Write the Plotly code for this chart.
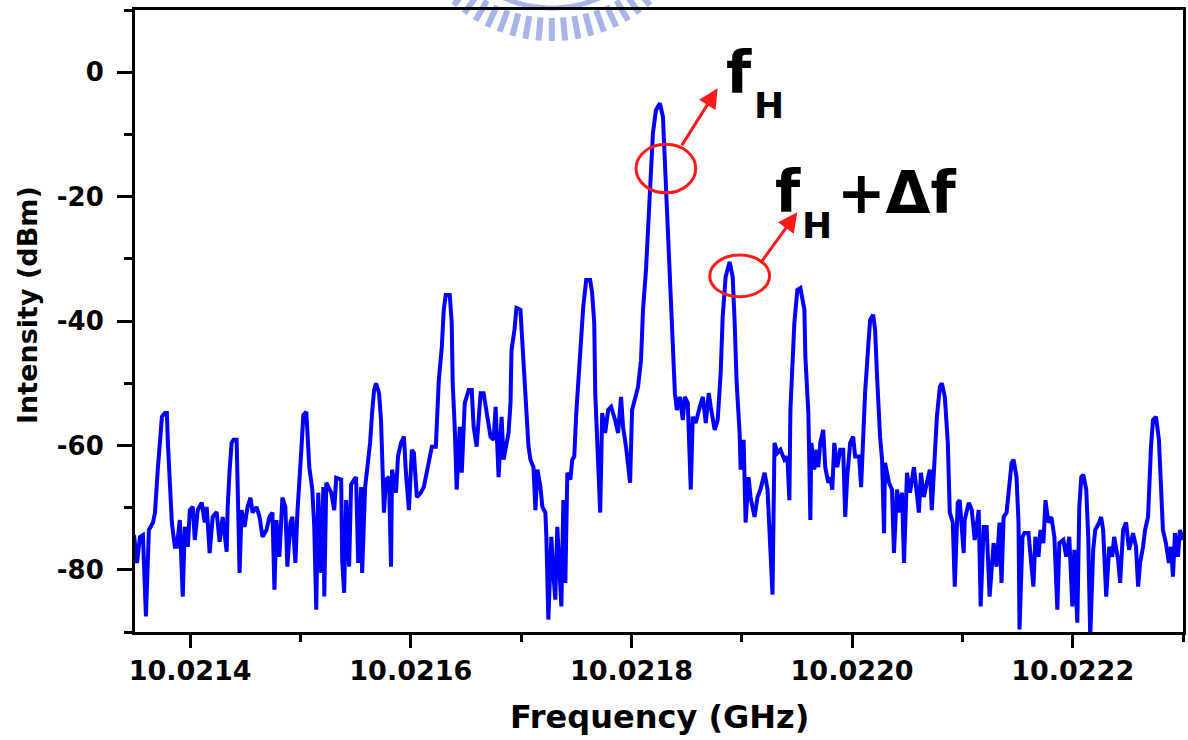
import math
import plotly.graph_objects as go

# Spectrum analyser trace: frequency (GHz) vs intensity (dBm)
freq_ghz = [
    10.0213491, 10.0213518, 10.0213545, 10.0213572, 10.0213599, 10.0213626, 10.0213663, 10.0213681, 10.0213708, 10.0213744,
    10.0213771, 10.0213789, 10.0213798, 10.0213816, 10.0213834, 10.0213861, 10.0213879, 10.0213906, 10.0213933, 10.0213951,
    10.0213979, 10.0213997, 10.0214024, 10.0214042, 10.0214069, 10.0214105, 10.0214132, 10.0214150, 10.0214177, 10.0214204,
    10.0214240, 10.0214267, 10.0214295, 10.0214331, 10.0214340, 10.0214358, 10.0214376, 10.0214394, 10.0214421, 10.0214430,
    10.0214448, 10.0214466, 10.0214493, 10.0214520, 10.0214547, 10.0214565, 10.0214602, 10.0214629, 10.0214656, 10.0214692,
    10.0214719, 10.0214746, 10.0214764, 10.0214782, 10.0214809, 10.0214836, 10.0214863, 10.0214881, 10.0214909, 10.0214927,
    10.0214954, 10.0214972, 10.0214990, 10.0215008, 10.0215026, 10.0215053, 10.0215080, 10.0215107, 10.0215125, 10.0215143,
    10.0215161, 10.0215188, 10.0215207, 10.0215216, 10.0215234, 10.0215279, 10.0215306, 10.0215324, 10.0215369, 10.0215378,
    10.0215396, 10.0215414, 10.0215441, 10.0215459, 10.0215486, 10.0215504, 10.0215523, 10.0215550, 10.0215559, 10.0215586,
    10.0215604, 10.0215631, 10.0215649, 10.0215667, 10.0215685, 10.0215712, 10.0215730, 10.0215739, 10.0215757, 10.0215775,
    10.0215802, 10.0215821, 10.0215830, 10.0215866, 10.0215884, 10.0215911, 10.0215938, 10.0215956, 10.0215983, 10.0216010,
    10.0216028, 10.0216055, 10.0216091, 10.0216118, 10.0216146, 10.0216173, 10.0216191, 10.0216227, 10.0216236, 10.0216254,
    10.0216281, 10.0216299, 10.0216317, 10.0216353, 10.0216371, 10.0216380, 10.0216398, 10.0216416, 10.0216444, 10.0216462,
    10.0216489, 10.0216525, 10.0216552, 10.0216570, 10.0216597, 10.0216633, 10.0216660, 10.0216687, 10.0216723, 10.0216751,
    10.0216769, 10.0216796, 10.0216814, 10.0216823, 10.0216841, 10.0216859, 10.0216886, 10.0216904, 10.0216913, 10.0216940,
    10.0216958, 10.0216994, 10.0217012, 10.0217030, 10.0217049, 10.0217067, 10.0217085, 10.0217112, 10.0217130, 10.0217148,
    10.0217175, 10.0217193, 10.0217220, 10.0217229, 10.0217247, 10.0217274, 10.0217292, 10.0217310, 10.0217328, 10.0217355,
    10.0217365, 10.0217383, 10.0217401, 10.0217419, 10.0217446, 10.0217464, 10.0217482, 10.0217500, 10.0217527, 10.0217545,
    10.0217563, 10.0217590, 10.0217626, 10.0217644, 10.0217663, 10.0217672, 10.0217690, 10.0217717, 10.0217735, 10.0217762,
    10.0217789, 10.0217816, 10.0217852, 10.0217879, 10.0217906, 10.0217924, 10.0217951, 10.0217988, 10.0218006, 10.0218033,
    10.0218060, 10.0218087, 10.0218105, 10.0218132, 10.0218168, 10.0218195, 10.0218222, 10.0218258, 10.0218286, 10.0218313,
    10.0218349, 10.0218376, 10.0218394, 10.0218412, 10.0218439, 10.0218466, 10.0218484, 10.0218511, 10.0218529, 10.0218538,
    10.0218556, 10.0218583, 10.0218620, 10.0218647, 10.0218674, 10.0218701, 10.0218719, 10.0218755, 10.0218782, 10.0218809,
    10.0218827, 10.0218854, 10.0218890, 10.0218918, 10.0218936, 10.0218954, 10.0218981, 10.0218990, 10.0219017, 10.0219035,
    10.0219062, 10.0219080, 10.0219116, 10.0219143, 10.0219170, 10.0219207, 10.0219234, 10.0219261, 10.0219279, 10.0219297,
    10.0219324, 10.0219351, 10.0219387, 10.0219414, 10.0219432, 10.0219441, 10.0219477, 10.0219504, 10.0219532, 10.0219568,
    10.0219577, 10.0219604, 10.0219622, 10.0219631, 10.0219658, 10.0219667, 10.0219694, 10.0219712, 10.0219739, 10.0219757,
    10.0219784, 10.0219802, 10.0219821, 10.0219839, 10.0219866, 10.0219893, 10.0219920, 10.0219938, 10.0219956, 10.0219983,
    10.0220010, 10.0220028, 10.0220064, 10.0220082, 10.0220100, 10.0220118, 10.0220146, 10.0220164, 10.0220191, 10.0220209,
    10.0220227, 10.0220245, 10.0220254, 10.0220272, 10.0220290, 10.0220299, 10.0220335, 10.0220362, 10.0220380, 10.0220407,
    10.0220435, 10.0220453, 10.0220471, 10.0220498, 10.0220525, 10.0220561, 10.0220579, 10.0220606, 10.0220624, 10.0220651,
    10.0220678, 10.0220705, 10.0220723, 10.0220742, 10.0220769, 10.0220796, 10.0220814, 10.0220841, 10.0220868, 10.0220886,
    10.0220913, 10.0220931, 10.0220958, 10.0220976, 10.0221012, 10.0221021, 10.0221058, 10.0221085, 10.0221112, 10.0221148,
    10.0221166, 10.0221193, 10.0221220, 10.0221247, 10.0221283, 10.0221310, 10.0221337, 10.0221355, 10.0221374, 10.0221401,
    10.0221428, 10.0221446, 10.0221464, 10.0221491, 10.0221509, 10.0221518, 10.0221545, 10.0221563, 10.0221599, 10.0221617,
    10.0221644, 10.0221662, 10.0221690, 10.0221708, 10.0221735, 10.0221753, 10.0221780, 10.0221807, 10.0221834, 10.0221861,
    10.0221879, 10.0221915, 10.0221942, 10.0221969, 10.0221997, 10.0222015, 10.0222042, 10.0222060, 10.0222078, 10.0222096,
    10.0222123, 10.0222141, 10.0222159, 10.0222186, 10.0222204, 10.0222240, 10.0222258, 10.0222276, 10.0222304, 10.0222331,
    10.0222358, 10.0222376, 10.0222412, 10.0222430, 10.0222457, 10.0222484, 10.0222511, 10.0222547, 10.0222574, 10.0222593,
    10.0222611, 10.0222638, 10.0222656, 10.0222683, 10.0222692, 10.0222710, 10.0222728, 10.0222755, 10.0222782, 10.0222800,
    10.0222818, 10.0222845, 10.0222872, 10.0222890, 10.0222909, 10.0222927, 10.0222954, 10.0222972, 10.0222999,
]

intensity_dbm = [
    -74.4, -78.9, -74.7, -74.4, -87.5, -73.6, -72.4, -70.8, -63.5, -55.4,
    -54.8, -54.8, -59.6, -66.7, -72.4, -76.3, -76.3, -72.0, -84.3, -73.1,
    -76.3, -70.4, -69.9, -75.2, -70.4, -69.2, -72.4, -69.9, -77.3, -71.5,
    -70.7, -75.5, -71.5, -77.1, -69.9, -63.9, -59.6, -59.1, -59.1, -66.0,
    -80.5, -70.4, -73.1, -69.9, -68.4, -70.8, -69.9, -71.5, -74.7, -73.6,
    -71.5, -70.8, -83.2, -72.0, -77.9, -68.4, -69.9, -79.5, -72.4, -71.5,
    -78.9, -70.8, -66.7, -60.7, -55.1, -54.6, -63.5, -67.1, -73.1, -86.4,
    -67.6, -80.5, -66.7, -84.3, -66.0, -67.6, -70.4, -65.2, -65.5, -78.4,
    -83.7, -68.8, -79.5, -66.3, -65.5, -65.1, -78.9, -66.7, -80.5, -66.7,
    -63.9, -59.6, -54.8, -51.1, -50.0, -51.6, -55.9, -61.2, -70.8, -65.5,
    -65.1, -79.5, -63.9, -67.6, -61.8, -59.6, -58.6, -64.4, -70.4, -60.7,
    -61.2, -68.3, -67.6, -66.7, -63.9, -61.2, -60.2, -60.2, -55.9, -49.5,
    -44.2, -38.2, -35.8, -35.8, -40.3, -50.0, -57.0, -67.1, -57.0, -64.4,
    -53.2, -51.1, -51.1, -57.0, -60.2, -51.6, -51.6, -54.8, -58.6, -59.1,
    -53.8, -65.1, -57.0, -55.4, -62.3, -60.2, -58.0, -53.2, -44.7, -41.4,
    -37.9, -38.2, -43.5, -49.0, -54.3, -60.2, -62.3, -63.5, -70.4, -63.9,
    -66.7, -69.9, -70.8, -74.7, -88.0, -74.7, -80.5, -84.8, -73.1, -81.6,
    -85.9, -68.8, -82.1, -64.4, -65.5, -62.3, -61.8, -54.8, -47.4, -41.0,
    -37.8, -33.4, -33.4, -35.5, -40.3, -51.6, -58.6, -70.8, -54.8, -58.0,
    -54.3, -53.8, -55.9, -58.0, -52.2, -57.0, -60.2, -66.0, -54.3, -52.7,
    -50.6, -46.3, -38.2, -31.8, -19.0, -9.8, -6.1, -5.0, -7.2, -19.0,
    -35.0, -45.8, -51.6, -54.3, -52.2, -55.9, -52.2, -53.2, -60.2, -67.1,
    -55.4, -56.4, -53.8, -52.2, -56.4, -51.6, -53.8, -57.5, -55.9, -48.4,
    -39.4, -32.9, -30.5, -32.9, -40.3, -50.0, -58.0, -63.9, -59.1, -72.4,
    -65.1, -68.3, -71.5, -68.3, -67.1, -64.4, -67.1, -75.7, -84.0, -59.6,
    -61.2, -60.7, -62.3, -61.8, -68.8, -54.3, -40.3, -35.0, -34.7, -38.2,
    -45.8, -54.8, -72.0, -59.6, -63.9, -60.7, -63.5, -59.6, -57.5, -63.5,
    -66.0, -65.1, -67.1, -59.6, -63.5, -60.7, -60.7, -71.5, -65.1, -59.6,
    -58.6, -61.8, -61.8, -66.7, -57.5, -51.6, -44.2, -39.8, -39.0, -41.4,
    -49.0, -56.4, -58.6, -62.3, -74.1, -62.8, -66.0, -67.1, -77.3, -67.1,
    -70.8, -67.6, -78.9, -64.4, -67.6, -63.5, -66.0, -70.8, -64.4, -68.3,
    -66.0, -63.9, -70.4, -63.5, -55.4, -50.6, -50.0, -52.2, -59.6, -70.8,
    -72.4, -82.7, -69.2, -68.8, -77.3, -72.0, -69.2, -70.4, -75.2, -70.4,
    -85.9, -73.1, -73.1, -84.3, -75.7, -79.5, -72.4, -82.1, -71.5, -70.8,
    -65.1, -62.8, -62.3, -65.1, -72.4, -89.6, -74.7, -74.1, -74.1, -77.9,
    -82.7, -74.7, -77.9, -73.6, -75.7, -68.8, -72.4, -71.5, -74.7, -86.4,
    -75.7, -75.2, -77.9, -74.7, -85.9, -76.8, -88.5, -69.9, -65.1, -64.7,
    -67.1, -74.7, -91.0, -76.8, -73.6, -72.4, -71.5, -73.6, -84.3, -76.3,
    -77.9, -74.7, -78.4, -82.1, -73.6, -72.4, -76.8, -74.1, -76.3, -82.7,
    -78.9, -76.3, -73.6, -71.5, -66.0, -60.2, -55.9, -55.4, -59.1, -67.1,
    -73.6, -75.7, -78.9, -76.3, -81.1, -74.1, -77.9, -73.6, -75.2,
]

x_tick_vals = [10.0214, 10.0216, 10.0218, 10.0220, 10.0222]
x_tick_text = ["10.0214", "10.0216", "10.0218", "10.0220", "10.0222"]
y_tick_vals = [0, -20, -40, -60, -80]
y_tick_text = ["0", "-20", "-40", "-60", "-80"]

assert len(freq_ghz) == len(intensity_dbm)

FONT = "DejaVu Sans"
RED = "#ff1a1a"
WATERMARK = "#a6b4e8"

W, H = 1188, 740
M_L, M_R, M_T, M_B = 135, 2, 10, 108
PLOT_W = W - M_L - M_R
PLOT_H = H - M_T - M_B


def px_to_paper(px, py):
    """Convert page pixel position to paper coordinates."""
    return (px - M_L) / PLOT_W, (H - M_B - py) / PLOT_H


fig = go.Figure()
fig.add_trace(go.Scatter(
    x=freq_ghz, y=intensity_dbm, mode="lines",
    line=dict(color="#0000ff", width=4),
    showlegend=False, hoverinfo="skip",
))

axis_common = dict(
    showline=True, linewidth=3, linecolor="black", mirror=True,
    ticks="outside", tickwidth=3, tickcolor="black",
    showgrid=False, zeroline=False,
)

fig.update_xaxes(
    **axis_common,
    range=[10.02135, 10.0223],
    tickvals=x_tick_vals, ticktext=x_tick_text, ticklen=13,
    tickfont=dict(family=FONT, size=27, color="black", weight="bold"),
    minor=dict(ticks="outside", ticklen=7, tickwidth=3, tickcolor="black",
               tick0=10.0214, dtick=0.0001),
)
fig.update_yaxes(
    **axis_common,
    range=[-90, 10],
    tickvals=y_tick_vals, ticktext=y_tick_text, ticklen=15,
    ticklabelstandoff=8,
    tickfont=dict(family=FONT, size=26, color="black", weight="bold"),
    minor=dict(ticks="outside", ticklen=8, tickwidth=3, tickcolor="black",
               tick0=-90, dtick=10),
)


def bold(size):
    return dict(family=FONT, size=size, color="black", weight="bold")


annotations = [
    # axis titles
    dict(text="Frequency (GHz)", xref="paper", yref="paper", x=0.5, y=-0.137,
         xanchor="center", yanchor="middle", showarrow=False, font=bold(32)),
    dict(text="Intensity (dBm)", xref="paper", yref="paper", x=-0.102, y=0.526,
         xanchor="center", yanchor="middle", textangle=-90, showarrow=False,
         font=bold(27)),
    # peak labels
    dict(text="f", x=10.0218972, y=-0.2, showarrow=False, font=bold(58)),
    dict(text="H", x=10.0219243, y=-5.3, showarrow=False, font=bold(36)),
    dict(text="f", x=10.0219423, y=-19.3, showarrow=False, font=bold(58)),
    dict(text="H", x=10.0219685, y=-24.6, showarrow=False, font=bold(36)),
    dict(text="+\u0394f", x=10.0220407, y=-19.4, showarrow=False, font=bold(58)),
    # pointer arrows
    dict(text="", x=10.0218782, y=-2.6, ax=10.0218448, ay=-12.0,
         axref="x", ayref="y", showarrow=True, arrowhead=2, arrowsize=1.3,
         arrowwidth=3, arrowcolor=RED),
    dict(text="", x=10.0219504, y=-22.5, ax=10.0219170, ay=-30.7,
         axref="x", ayref="y", showarrow=True, arrowhead=2, arrowsize=1.3,
         arrowwidth=3, arrowcolor=RED),
]

shapes = [
    dict(type="circle", xref="x", yref="y",
         x0=10.0218042, x1=10.0218583, y0=-19.4, y1=-11.6,
         line=dict(color=RED, width=3)),
    dict(type="circle", xref="x", yref="y",
         x0=10.0218710, x1=10.0219252, y0=-36.1, y1=-29.4,
         line=dict(color=RED, width=3)),
]

# Faint gear-shaped emblem at the top edge of the page
EMB_CX, EMB_CY = 553, -112
for k in range(-8, 9):
    ang = math.radians(k * 5)
    x0, y0 = px_to_paper(EMB_CX + 130 * math.sin(ang), EMB_CY + 130 * math.cos(ang))
    x1, y1 = px_to_paper(EMB_CX + 153 * math.sin(ang), EMB_CY + 153 * math.cos(ang))
    shapes.append(dict(type="line", xref="paper", yref="paper", layer="below",
                       x0=x0, y0=y0, x1=x1, y1=y1,
                       line=dict(color=WATERMARK, width=6)))
arc_pts = []
for k in range(-45, 46, 3):
    ang = math.radians(k)
    arc_pts.append(px_to_paper(EMB_CX + 120 * math.sin(ang), EMB_CY + 120 * math.cos(ang)))
arc_path = "M " + " L ".join(f"{x:.5f},{y:.5f}" for x, y in arc_pts)
shapes.append(dict(type="path", xref="paper", yref="paper", layer="below",
                   path=arc_path, line=dict(color=WATERMARK, width=5)))

fig.update_layout(
    width=W, height=H,
    margin=dict(l=M_L, r=M_R, t=M_T, b=M_B),
    plot_bgcolor="white", paper_bgcolor="white",
    annotations=annotations, shapes=shapes,
    showlegend=False,
)

fig.write_html("out.html")
